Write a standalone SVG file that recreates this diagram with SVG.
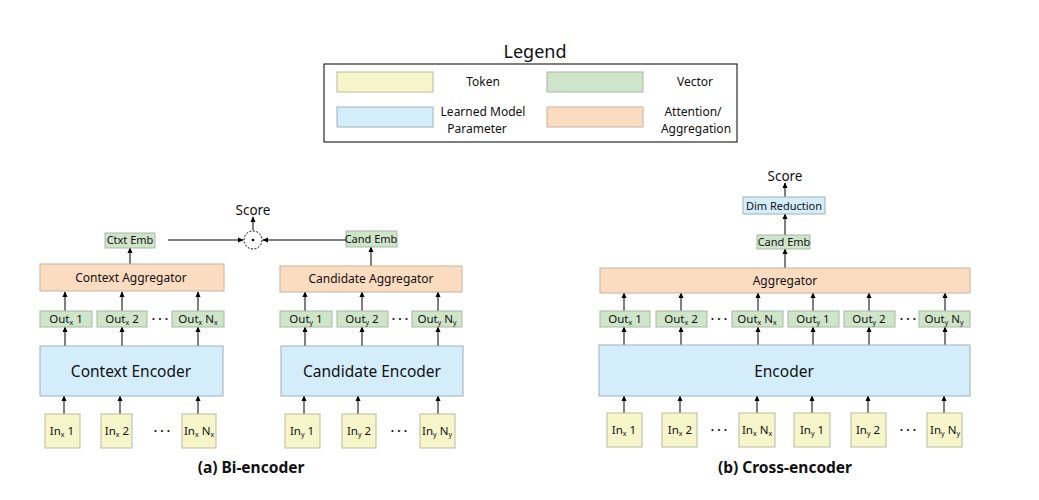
<svg xmlns="http://www.w3.org/2000/svg" width="1039" height="500" viewBox="0 0 1039 500">
<defs>
<marker id="ah" viewBox="0 0 8 8" refX="7" refY="4" markerWidth="6" markerHeight="6" orient="auto" markerUnits="userSpaceOnUse"><path d="M0,0.5 L8,4 L0,7.5 Z" fill="#000"/></marker>
</defs>
<style>
text{font-family:"Noto Sans","DejaVu Sans",sans-serif;fill:#111;text-anchor:middle}
.tok{fill:#f7f6cb;stroke:#b9b9a0;stroke-width:1}
.vec{fill:#cfe5c9;stroke:#a9b8a5;stroke-width:1}
.par{fill:#d4edfb;stroke:#9fb0bb;stroke-width:1}
.att{fill:#fcdcc1;stroke:#c8b29f;stroke-width:1}
.s{font-size:11px}
.o{font-size:11.5px}
.m{font-size:12px}
.b{font-size:15.5px}
.cap{font-size:15.5px;font-weight:bold}
.c{stroke:#000;stroke-width:1;fill:none;marker-end:url(#ah)}
.sub{font-size:7px}
.d{font-size:12px;font-weight:bold}
</style>
<g id="legend">
<text x="535" y="58" style="font-size:18px">Legend</text>
<rect x="324" y="64" width="413" height="78" fill="#fff" stroke="#000" stroke-width="1"/>
<rect class="tok" x="337" y="72" width="96" height="20"/>
<text class="m" x="483" y="86">Token</text>
<rect class="vec" x="547" y="72" width="96" height="20"/>
<text class="m" x="695" y="86">Vector</text>
<rect class="par" x="337" y="107" width="96" height="20"/>
<text class="m" x="483" y="116">Learned Model</text>
<text class="m" x="477" y="133">Parameter</text>
<rect class="att" x="547" y="107" width="96" height="20"/>
<text class="m" x="693" y="116">Attention/</text>
<text class="m" x="696" y="133">Aggregation</text>
</g>
<g id="connectors">
<path class="c" d="M168,240 H243"/>
<path class="c" d="M346,240 H263"/>
<path class="c" d="M253,230 V217"/>
<path class="c" d="M130,264 V248"/>
<path class="c" d="M371,266 V247"/>
<path class="c" d="M65,311 V292"/><path class="c" d="M122,311 V292"/><path class="c" d="M198,311 V292"/>
<path class="c" d="M305,311 V292"/><path class="c" d="M362,311 V292"/><path class="c" d="M438,311 V292"/>
<path class="c" d="M65,346 V327"/><path class="c" d="M122,346 V327"/><path class="c" d="M198,346 V327"/>
<path class="c" d="M305,346 V327"/><path class="c" d="M362,346 V327"/><path class="c" d="M438,346 V327"/>
<path class="c" d="M64,414 V396"/><path class="c" d="M120,414 V396"/><path class="c" d="M198,414 V396"/>
<path class="c" d="M304,414 V396"/><path class="c" d="M358,414 V396"/><path class="c" d="M438,414 V396"/>
<path class="c" d="M785,197 V183"/>
<path class="c" d="M785,235 V214"/>
<path class="c" d="M785,268 V249"/>
<path class="c" d="M624,311 V293"/><path class="c" d="M681,311 V293"/><path class="c" d="M758,311 V293"/><path class="c" d="M813,311 V293"/><path class="c" d="M869,311 V293"/><path class="c" d="M945,311 V293"/>
<path class="c" d="M624,345 V327"/><path class="c" d="M681,345 V327"/><path class="c" d="M758,345 V327"/><path class="c" d="M813,345 V327"/><path class="c" d="M869,345 V327"/><path class="c" d="M945,345 V327"/>
<path class="c" d="M624,413 V396"/><path class="c" d="M680,413 V396"/><path class="c" d="M757,413 V396"/><path class="c" d="M812,413 V396"/><path class="c" d="M868,413 V396"/><path class="c" d="M944,413 V396"/>
</g>
<g id="score-bi">
<text x="253" y="215" style="font-size:13.5px">Score</text>
<circle cx="253" cy="240" r="9" fill="#fff" stroke="#000" stroke-width="1" stroke-dasharray="2,1.5"/>
<circle cx="253" cy="240" r="1.3" fill="#000"/>
</g>
<g id="ctxt-emb"><rect class="vec" x="105" y="233" width="50" height="15"/><text class="s" x="130" y="244">Ctxt Emb</text></g>
<g id="cand-emb-bi"><rect class="vec" x="346" y="231" width="51" height="16"/><text class="s" x="371" y="243">Cand Emb</text></g>
<g id="context-aggregator"><rect class="att" x="40" y="264" width="184" height="27"/><text class="m" x="131" y="282">Context Aggregator</text></g>
<g id="candidate-aggregator"><rect class="att" x="280" y="266" width="182" height="26"/><text class="m" x="371" y="283">Candidate Aggregator</text></g>
<g id="outx1-a"><rect class="vec" x="40" y="311" width="52" height="16"/><text class="o" x="66" y="323">Out<tspan class="sub" dy="2">x</tspan><tspan dy="-2"> 1</tspan></text></g>
<g id="outx2-a"><rect class="vec" x="97" y="311" width="50" height="16"/><text class="o" x="122" y="323">Out<tspan class="sub" dy="2">x</tspan><tspan dy="-2"> 2</tspan></text></g>
<g id="dots-a1"><text class="d" x="160" y="323">· · ·</text></g>
<g id="outxn-a"><rect class="vec" x="172" y="311" width="52" height="16"/><text class="o" x="198" y="323">Out<tspan class="sub" dy="2">x</tspan><tspan dy="-2"> N</tspan><tspan class="sub" dy="2">x</tspan></text></g>
<g id="outy1-a"><rect class="vec" x="280" y="311" width="52" height="16"/><text class="o" x="306" y="323">Out<tspan class="sub" dy="2">y</tspan><tspan dy="-2"> 1</tspan></text></g>
<g id="outy2-a"><rect class="vec" x="337" y="311" width="51" height="16"/><text class="o" x="362" y="323">Out<tspan class="sub" dy="2">y</tspan><tspan dy="-2"> 2</tspan></text></g>
<g id="dots-a2"><text class="d" x="400" y="323">· · ·</text></g>
<g id="outyn-a"><rect class="vec" x="412" y="311" width="50" height="16"/><text class="o" x="437" y="323">Out<tspan class="sub" dy="2">y</tspan><tspan dy="-2"> N</tspan><tspan class="sub" dy="2">y</tspan></text></g>
<g id="context-encoder"><rect class="par" x="40" y="346" width="183" height="50"/><text class="b" x="131" y="377">Context Encoder</text></g>
<g id="candidate-encoder"><rect class="par" x="281" y="346" width="182" height="50"/><text class="b" x="372" y="377">Candidate Encoder</text></g>
<g id="inx1-a"><rect class="tok" x="45" y="414" width="35" height="34"/><text class="o" x="62" y="435">In<tspan class="sub" dy="2">x</tspan><tspan dy="-2"> 1</tspan></text></g>
<g id="inx2-a"><rect class="tok" x="101" y="414" width="31" height="34"/><text class="o" x="117" y="435">In<tspan class="sub" dy="2">x</tspan><tspan dy="-2"> 2</tspan></text></g>
<g id="dots-a3"><text class="d" x="162" y="435">· · ·</text></g>
<g id="inxn-a"><rect class="tok" x="182" y="414" width="34" height="34"/><text class="o" x="199" y="435">In<tspan class="sub" dy="2">x</tspan><tspan dy="-2"> N</tspan><tspan class="sub" dy="2">x</tspan></text></g>
<g id="iny1-a"><rect class="tok" x="285" y="414" width="35" height="34"/><text class="o" x="302" y="435">In<tspan class="sub" dy="2">y</tspan><tspan dy="-2"> 1</tspan></text></g>
<g id="iny2-a"><rect class="tok" x="342" y="414" width="34" height="34"/><text class="o" x="359" y="435">In<tspan class="sub" dy="2">y</tspan><tspan dy="-2"> 2</tspan></text></g>
<g id="dots-a4"><text class="d" x="399" y="435">· · ·</text></g>
<g id="inyn-a"><rect class="tok" x="420" y="414" width="35" height="34"/><text class="o" x="437" y="435">In<tspan class="sub" dy="2">y</tspan><tspan dy="-2"> N</tspan><tspan class="sub" dy="2">y</tspan></text></g>
<g id="caption-a"><text class="cap" x="251" y="473">(a) Bi-encoder</text></g>

<g id="score-cross"><text x="785" y="181" style="font-size:13.5px">Score</text></g>
<g id="dim-reduction"><rect class="par" x="743" y="197" width="82" height="17"/><text class="s" x="784" y="210">Dim Reduction</text></g>
<g id="cand-emb-cross"><rect class="vec" x="757" y="235" width="53" height="14"/><text class="s" x="784" y="246">Cand Emb</text></g>
<g id="aggregator"><rect class="att" x="600" y="268" width="370" height="25"/><text class="m" x="785" y="285">Aggregator</text></g>
<g id="outx1-b"><rect class="vec" x="600" y="311" width="50" height="16"/><text class="o" x="625" y="323">Out<tspan class="sub" dy="2">x</tspan><tspan dy="-2"> 1</tspan></text></g>
<g id="outx2-b"><rect class="vec" x="656" y="311" width="51" height="16"/><text class="o" x="681" y="323">Out<tspan class="sub" dy="2">x</tspan><tspan dy="-2"> 2</tspan></text></g>
<g id="dots-b1"><text class="d" x="719" y="323">· · ·</text></g>
<g id="outxn-b"><rect class="vec" x="732" y="311" width="51" height="16"/><text class="o" x="757" y="323">Out<tspan class="sub" dy="2">x</tspan><tspan dy="-2"> N</tspan><tspan class="sub" dy="2">x</tspan></text></g>
<g id="outy1-b"><rect class="vec" x="788" y="311" width="51" height="16"/><text class="o" x="813" y="323">Out<tspan class="sub" dy="2">y</tspan><tspan dy="-2"> 1</tspan></text></g>
<g id="outy2-b"><rect class="vec" x="844" y="311" width="51" height="16"/><text class="o" x="869" y="323">Out<tspan class="sub" dy="2">y</tspan><tspan dy="-2"> 2</tspan></text></g>
<g id="dots-b2"><text class="d" x="908" y="323">· · ·</text></g>
<g id="outyn-b"><rect class="vec" x="919" y="311" width="51" height="16"/><text class="o" x="944" y="323">Out<tspan class="sub" dy="2">y</tspan><tspan dy="-2"> N</tspan><tspan class="sub" dy="2">y</tspan></text></g>
<g id="encoder"><rect class="par" x="599" y="345" width="371" height="51"/><text class="b" x="784" y="377">Encoder</text></g>
<g id="inx1-b"><rect class="tok" x="607" y="413" width="35" height="34"/><text class="o" x="624" y="434">In<tspan class="sub" dy="2">x</tspan><tspan dy="-2"> 1</tspan></text></g>
<g id="inx2-b"><rect class="tok" x="662" y="413" width="35" height="34"/><text class="o" x="680" y="434">In<tspan class="sub" dy="2">x</tspan><tspan dy="-2"> 2</tspan></text></g>
<g id="dots-b3"><text class="d" x="719" y="434">· · ·</text></g>
<g id="inxn-b"><rect class="tok" x="739" y="413" width="36" height="34"/><text class="o" x="757" y="434">In<tspan class="sub" dy="2">x</tspan><tspan dy="-2"> N</tspan><tspan class="sub" dy="2">x</tspan></text></g>
<g id="iny1-b"><rect class="tok" x="794" y="413" width="36" height="34"/><text class="o" x="812" y="434">In<tspan class="sub" dy="2">y</tspan><tspan dy="-2"> 1</tspan></text></g>
<g id="iny2-b"><rect class="tok" x="851" y="413" width="35" height="34"/><text class="o" x="868" y="434">In<tspan class="sub" dy="2">y</tspan><tspan dy="-2"> 2</tspan></text></g>
<g id="dots-b4"><text class="d" x="908" y="434">· · ·</text></g>
<g id="inyn-b"><rect class="tok" x="927" y="413" width="35" height="34"/><text class="o" x="945" y="434">In<tspan class="sub" dy="2">y</tspan><tspan dy="-2"> N</tspan><tspan class="sub" dy="2">y</tspan></text></g>
<g id="caption-b"><text class="cap" x="785" y="473">(b) Cross-encoder</text></g>
</svg>
